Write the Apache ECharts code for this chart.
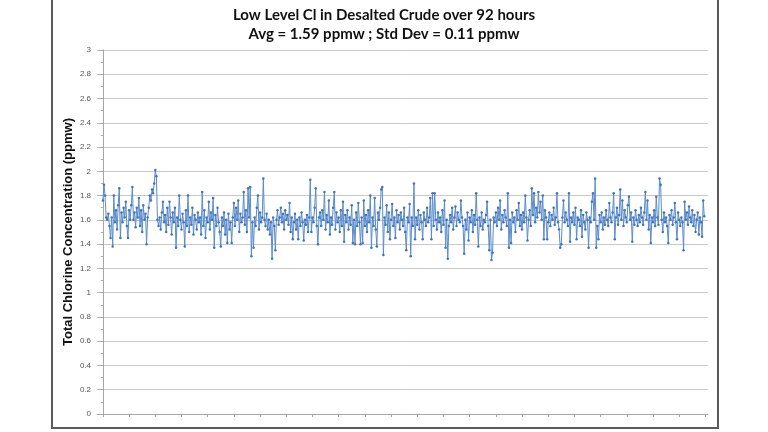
<!DOCTYPE html>
<html>
<head>
<meta charset="utf-8">
<script src="https://cdn.jsdelivr.net/npm/echarts@6/dist/echarts.min.js"></script>
<style>
  html, body { margin: 0; padding: 0; background: #fff; }
  #chart { width: 768px; height: 432px; }
</style>
</head>
<body>
<div id="chart"></div>
<script>
// chart text
var titleLines = ['Low Level Cl in Desalted Crude over 92 hours', 'Avg = 1.59 ppmw ; Std Dev = 0.11 ppmw'];
var yAxisName = 'Total Chlorine Concentration (ppmw)';

// sample every 10 minutes, 552 readings (estimated)
var minutesPerSample = 10;
var chlorine = [
  1.76, 1.89, 1.80, 1.62, 1.60, 1.65, 1.55, 1.45, 1.62, 1.38,
  1.80, 1.58, 1.68, 1.52, 1.72, 1.86, 1.45, 1.66, 1.58, 1.70,
  1.62, 1.75, 1.55, 1.45, 1.68, 1.60, 1.72, 1.87, 1.60, 1.66,
  1.54, 1.70, 1.62, 1.78, 1.55, 1.68, 1.50, 1.72, 1.60, 1.65,
  1.40, 1.62, 1.70, 1.80, 1.76, 1.85, 1.82, 1.90, 2.01, 1.96,
  1.60, 1.55, 1.62, 1.52, 1.66, 1.75, 1.58, 1.64, 1.50, 1.70,
  1.56, 1.75, 1.62, 1.48, 1.66, 1.58, 1.70, 1.37, 1.62, 1.55,
  1.80, 1.60, 1.52, 1.65, 1.58, 1.38, 1.68, 1.55, 1.80, 1.50,
  1.62, 1.56, 1.70, 1.48, 1.64, 1.60, 1.52, 1.66, 1.58, 1.62,
  1.48, 1.83, 1.55, 1.68, 1.45, 1.62, 1.58, 1.75, 1.52, 1.66,
  1.60, 1.78, 1.37, 1.64, 1.55, 1.70, 1.58, 1.50, 1.38, 1.62,
  1.55, 1.66, 1.48, 1.60, 1.41, 1.65, 1.52, 1.58, 1.41, 1.62,
  1.74, 1.55, 1.70, 1.60, 1.76, 1.50, 1.65, 1.58, 1.62, 1.83,
  1.56, 1.68, 1.50, 1.86, 1.62, 1.87, 1.30, 1.58, 1.37, 1.62,
  1.55, 1.70, 1.80, 1.52, 1.66, 1.58, 1.62, 1.94, 1.60, 1.55,
  1.65, 1.52, 1.60, 1.48, 1.58, 1.28, 1.62, 1.55, 1.35, 1.60,
  1.68, 1.56, 1.62, 1.70, 1.58, 1.65, 1.52, 1.68, 1.60, 1.64,
  1.56, 1.74, 1.50, 1.62, 1.44, 1.58, 1.65, 1.52, 1.60, 1.44,
  1.62, 1.55, 1.66, 1.58, 1.43, 1.60, 1.56, 1.64, 1.50, 1.62,
  1.93, 1.50, 1.62, 1.58, 1.70, 1.86, 1.55, 1.40, 1.62, 1.66,
  1.55, 1.68, 1.60, 1.83, 1.52, 1.64, 1.58, 1.76, 1.48, 1.62,
  1.56, 1.70, 1.83, 1.52, 1.66, 1.58, 1.62, 1.50, 1.68, 1.55,
  1.75, 1.42, 1.64, 1.58, 1.68, 1.52, 1.62, 1.56, 1.72, 1.41,
  1.60, 1.40, 1.66, 1.55, 1.74, 1.58, 1.40, 1.62, 1.41, 1.76,
  1.55, 1.64, 1.50, 1.68, 1.58, 1.80, 1.37, 1.62, 1.55, 1.78,
  1.52, 1.38, 1.66, 1.60, 1.70, 1.85, 1.87, 1.31, 1.62, 1.56,
  1.72, 1.50, 1.66, 1.44, 1.60, 1.73, 1.55, 1.62, 1.45, 1.68,
  1.58, 1.64, 1.52, 1.66, 1.60, 1.55, 1.70, 1.50, 1.35, 1.62,
  1.58, 1.73, 1.30, 1.62, 1.55, 1.90, 1.44, 1.62, 1.56, 1.68,
  1.52, 1.64, 1.58, 1.44, 1.66, 1.60, 1.55, 1.70, 1.58, 1.62,
  1.78, 1.44, 1.82, 1.55, 1.82, 1.60, 1.52, 1.66, 1.58, 1.62,
  1.50, 1.68, 1.56, 1.76, 1.37, 1.60, 1.28, 1.55, 1.64, 1.58,
  1.70, 1.52, 1.62, 1.71, 1.55, 1.66, 1.60, 1.58, 1.76, 1.62,
  1.55, 1.32, 1.60, 1.52, 1.66, 1.43, 1.62, 1.58, 1.68, 1.50,
  1.64, 1.56, 1.82, 1.60, 1.38, 1.62, 1.55, 1.66, 1.52, 1.60,
  1.58, 1.64, 1.75, 1.55, 1.35, 1.60, 1.27, 1.33, 1.62, 1.58,
  1.66, 1.55, 1.70, 1.60, 1.76, 1.52, 1.64, 1.58, 1.68, 1.62,
  1.55, 1.82, 1.37, 1.60, 1.41, 1.66, 1.58, 1.62, 1.50, 1.68,
  1.60, 1.74, 1.55, 1.64, 1.52, 1.66, 1.58, 1.80, 1.62, 1.43,
  1.60, 1.68, 1.55, 1.86, 1.64, 1.82, 1.58, 1.70, 1.62, 1.83,
  1.66, 1.75, 1.60, 1.80, 1.44, 1.68, 1.62, 1.44, 1.58, 1.66,
  1.55, 1.64, 1.60, 1.70, 1.56, 1.62, 1.82, 1.58, 1.52, 1.37,
  1.40, 1.62, 1.76, 1.58, 1.66, 1.60, 1.55, 1.82, 1.42, 1.62,
  1.58, 1.66, 1.56, 1.70, 1.44, 1.62, 1.60, 1.55, 1.68, 1.46,
  1.64, 1.58, 1.52, 1.66, 1.60, 1.37, 1.62, 1.58, 1.75, 1.82,
  1.60, 1.94, 1.37, 1.55, 1.44, 1.64, 1.58, 1.66, 1.52, 1.62,
  1.56, 1.68, 1.60, 1.55, 1.74, 1.62, 1.58, 1.66, 1.82, 1.44,
  1.62, 1.70, 1.56, 1.64, 1.85, 1.60, 1.76, 1.55, 1.68, 1.62,
  1.58, 1.72, 1.79, 1.60, 1.66, 1.42, 1.62, 1.56, 1.68, 1.60,
  1.55, 1.64, 1.58, 1.70, 1.62, 1.56, 1.66, 1.83, 1.60, 1.76,
  1.52, 1.64, 1.41, 1.62, 1.58, 1.68, 1.55, 1.79, 1.62, 1.56,
  1.94, 1.89, 1.60, 1.50, 1.66, 1.58, 1.62, 1.55, 1.41, 1.64,
  1.60, 1.68, 1.56, 1.62, 1.74, 1.58, 1.44, 1.66, 1.60, 1.55,
  1.62, 1.58, 1.35, 1.75, 1.60, 1.66, 1.56, 1.71, 1.62, 1.58,
  1.68, 1.55, 1.64, 1.50, 1.60, 1.66, 1.48, 1.62, 1.58, 1.46,
  1.76, 1.63
];

// x ticks every 4 hours (no labels on the original)
var hourTicks = [0, 4, 8, 12, 16, 20, 24, 28, 32, 36, 40, 44, 48, 52, 56, 60, 64, 68, 72, 76, 80, 84, 88, 92];

var points = chlorine.map(function (v, i) {
  return [i * minutesPerSample / 60, v];
});

var chart = echarts.init(document.getElementById('chart'));
chart.setOption({
  backgroundColor: '#fff',
  animation: false,
  title: {
    text: titleLines.join('\n'),
    left: 'center',
    top: 1,
    textStyle: {
      fontFamily: 'Lato',
      fontWeight: 'bold',
      fontSize: 15,
      lineHeight: 19,
      color: '#111'
    }
  },
  graphic: [{
    type: 'rect',
    shape: { x: 52, y: -5, width: 666, height: 433 },
    style: { fill: 'none', stroke: '#5a5a5a', lineWidth: 2 },
    z: -1
  }],
  grid: { left: 97, right: 60, top: 50, bottom: 18 },
  xAxis: {
    type: 'value',
    min: -0.9,
    max: 92.4,
    splitLine: { show: false },
    axisLine: { lineStyle: { color: '#a6a6a6' } },
    axisTick: { show: true, customValues: hourTicks, length: 3, lineStyle: { color: '#a6a6a6' } },
    axisLabel: { show: false }
  },
  yAxis: {
    type: 'value',
    min: 0,
    max: 3,
    interval: 0.2,
    name: yAxisName,
    nameLocation: 'middle',
    nameGap: 22,
    nameMoveOverlap: false,
    nameTextStyle: {
      fontFamily: 'Liberation Sans',
      fontWeight: 'bold',
      fontSize: 13,
      color: '#111'
    },
    axisLine: { show: true, lineStyle: { color: '#a6a6a6' } },
    axisTick: { show: true, length: 4, lineStyle: { color: '#a6a6a6' } },
    minorTick: { show: true, splitNumber: 2, length: 2, lineStyle: { color: '#a6a6a6' } },
    axisLabel: { fontSize: 8, color: '#555', margin: 6, fontFamily: 'Liberation Sans' },
    splitLine: { lineStyle: { color: '#c9c9c9', width: 1 } }
  },
  series: [{
    type: 'line',
    data: points,
    symbol: 'circle',
    symbolSize: 2.5,
    showSymbol: true,
    lineStyle: { color: '#5b8ccb', width: 1 },
    itemStyle: { color: '#3f74b8' }
  }]
});
</script>
</body>
</html>
